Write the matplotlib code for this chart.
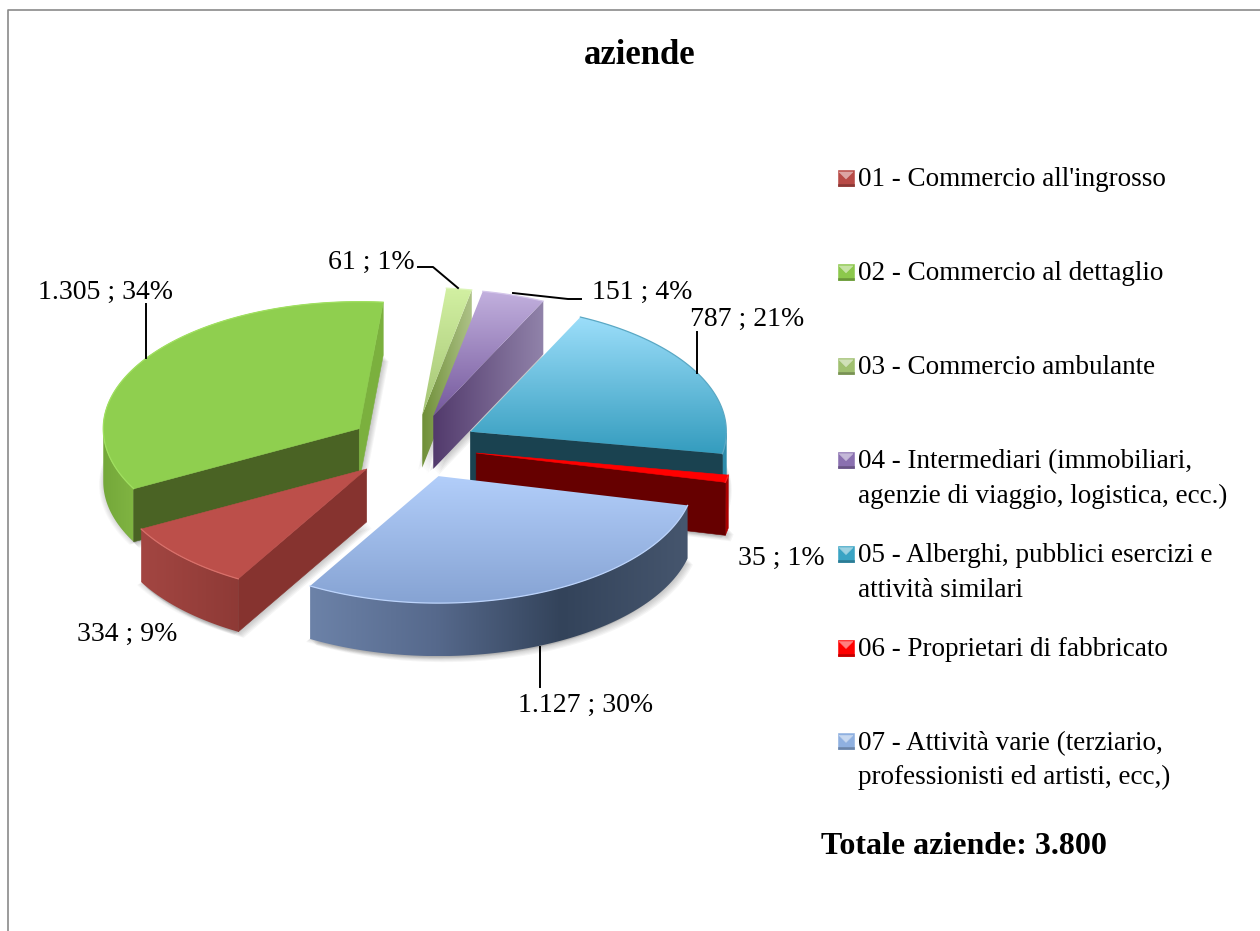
#!/usr/bin/python3
import numpy as np
import matplotlib
matplotlib.use("Agg")
import matplotlib.pyplot as plt
from matplotlib.patches import Polygon
from matplotlib.colors import LinearSegmentedColormap

# Data
categories = ["01 - Commercio all'ingrosso", "02 - Commercio al dettaglio", "03 - Commercio ambulante",
              "04 - Intermediari (immobiliari,\nagenzie di viaggio, logistica, ecc.)",
              "05 - Alberghi, pubblici esercizi e\nattività similari", "06 - Proprietari di fabbricato",
              "07 - Attività varie (terziario,\nprofessionisti ed artisti, ecc,)"]
values = [334, 1305, 61, 151, 787, 35, 1127]
percents = [9, 34, 1, 4, 21, 1, 30]
title = "aziende"
total_text = "Totale aziende: 3.800"

# Styles, same order as values
top_cols = [["#bc4f4a"], ["#8fcf4f"], ["#d2f0a2", "#a4c474"], ["#c2b0de", "#74589c"],
            ["#9cdefa", "#349cbe"], ["#ff0000"], ["#b2cefa", "#86a3d3"]]
arc_cols = [["#a34642", "#8e3a36"], ["#74a83a", "#80b442"], ["#8aa850"], ["#6a5088"],
            ["#2c8cab"], ["#aa0000"], ["#6c82a8", "#56698c", "#33435a", "#46566e"]]
start_cols = [["#86332f"], ["#4a6324"], None, None, None, None, None]
end_cols = [None, ["#7bb03e"], ["#6f8f38", "#aec288"], ["#523a6c", "#9183aa"], ["#1a4250"], ["#660000"], None]
edge_cols = ["#d8706a", "#a0e060", "#dcf5b8", "#d4c6ea", "#5aa8c4", "#ff2020", "#bcd4fc"]
legend_cols = ["#b84a46", "#8cc84c", "#a0c070", "#8a70b0", "#3aa4c4", "#ff0000", "#8fb0e0"]
draw_order = [2, 3, 4, 5, 1, 0, 6]

# Pie layout in pixels
cx, cy = 413, 446.5
rx, ry = 256, 127
depth = 53
explode = 64.5
start_angle = 210.1

fig = plt.figure(figsize=(12.6, 9.31), dpi=100)
ax = fig.add_axes([0, 0, 1, 1])
serif = "Liberation Serif"


def fill(pts, cols, horizontal=True, z=2):
    pts = np.array(pts)
    if len(cols) == 1:
        ax.add_patch(Polygon(pts, closed=True, fc=cols[0], ec=cols[0], lw=0.4, zorder=z))
        return
    cmap = LinearSegmentedColormap.from_list("g", cols)
    g = np.linspace(0, 1, 256)
    g = g.reshape(1, -1) if horizontal else g.reshape(-1, 1)
    x0, x1 = pts[:, 0].min(), pts[:, 0].max()
    y0, y1 = pts[:, 1].min(), pts[:, 1].max()
    im = ax.imshow(g, cmap=cmap, extent=(x0, x1, y1, y0), aspect="auto", zorder=z, interpolation="bilinear")
    clip = Polygon(pts, closed=True, transform=ax.transData)
    im.set_clip_path(clip)


total = sum(values)
bounds = start_angle + np.concatenate([[0], np.cumsum(values)]) / total * 360.0
z = 2
for i in draw_order:
    a0, a1 = bounds[i], bounds[i + 1]
    mid = np.radians((a0 + a1) / 2)
    ax_x = cx + explode * np.sin(mid)
    ax_y = cy - explode * np.cos(mid) * 0.5
    ang = np.radians(np.linspace(a0, a1, 120))
    arc_x = ax_x + rx * np.sin(ang)
    arc_y = ax_y - ry * np.cos(ang)
    top = np.vstack([[ax_x, ax_y], np.column_stack([arc_x, arc_y])])

    # soft shadow under the slice
    for d in range(1, 7):
        ax.add_patch(Polygon(top + [d * 0.9, depth + d], closed=True, fc="#404040", ec="none", alpha=0.05, zorder=z))
        ax.add_patch(Polygon(top + [-d * 0.7, depth + d * 0.5], closed=True, fc="#404040", ec="none", alpha=0.03, zorder=z))
    z += 1

    # curved outer wall, only the front half shows
    front = np.cos(ang) < 0
    if front.any():
        ax_pts = np.column_stack([arc_x[front], arc_y[front]])
        wall = np.vstack([ax_pts, (ax_pts + [0, depth])[::-1]])
        fill(wall, arc_cols[i], True, z)
        z += 1

    # radial cut walls
    if start_cols[i] is not None:
        p = top[1]
        fill([top[0], p, p + [0, depth], top[0] + [0, depth]], start_cols[i], True, z)
        z += 1
    if end_cols[i] is not None:
        p = top[-1]
        fill([top[0], p, p + [0, depth], top[0] + [0, depth]], end_cols[i], True, z)
        z += 1

    fill(top, top_cols[i], False, z)
    z += 1
    ax.plot(arc_x, arc_y, color=edge_cols[i], lw=0.9, zorder=z)
    z += 1

# Data labels
label_pos = [(127, 634), (106, 292), (371, 262), (642, 292), (747, 319), (781, 558), (586, 705)]
for i, (v, p) in enumerate(zip(values, percents)):
    num = f"{v:,}".replace(",", ".")
    ax.text(label_pos[i][0], label_pos[i][1], f"{num} ; {p}%", fontsize=20, family=serif,
            ha="center", va="center", color="black", zorder=100)

# Leader lines
leaders = [[(146, 304), (146, 358)], [(418, 267), (433, 267), (458, 288)],
           [(513, 293), (568, 299), (581, 299)], [(697, 332), (697, 373)], [(540, 647), (540, 687)]]
for line in leaders:
    xs, ys = zip(*line)
    ax.plot(xs, ys, color="black", lw=1.4, zorder=100)

# Legend
legend_y = 178 + np.arange(7) * 93.9
for i, cat in enumerate(categories):
    y = legend_y[i]
    x0, x1 = 838, 854
    c = legend_cols[i]
    fill([(x0, y - 8), (x1, y - 8), (x1, y + 8), (x0, y + 8)], [c], True, 100)
    tone = np.array(matplotlib.colors.to_rgb(c))
    fill([(x0 + 1, y - 6), (x1 - 1, y - 6), ((x0 + x1) / 2, y + 1)], [tuple(tone + (1 - tone) * 0.5)], True, 101)
    fill([(x0, y + 6), (x1, y + 6), (x1, y + 8), (x0, y + 8)], [tuple(tone * 0.75)], True, 101)
    lines = cat.split("\n")
    for k, txt in enumerate(lines):
        ax.text(858, y + 2 + k * 34.5, txt, fontsize=19.5, family=serif, ha="left", va="center", color="black", zorder=102)

ax.text(640, 55, title, fontsize=25, family=serif, weight="bold", ha="center", va="center")
ax.text(821, 847, total_text, fontsize=23, family=serif, weight="bold", ha="left", va="center")

# Frame of the chart area
ax.plot([8, 8, 1260], [931, 10, 10], color="#8a8a8a", lw=1.2, zorder=200)

ax.set_xlim(0, 1260)
ax.set_ylim(931, 0)
ax.axis("off")
fig.savefig("out.png", dpi=100)
